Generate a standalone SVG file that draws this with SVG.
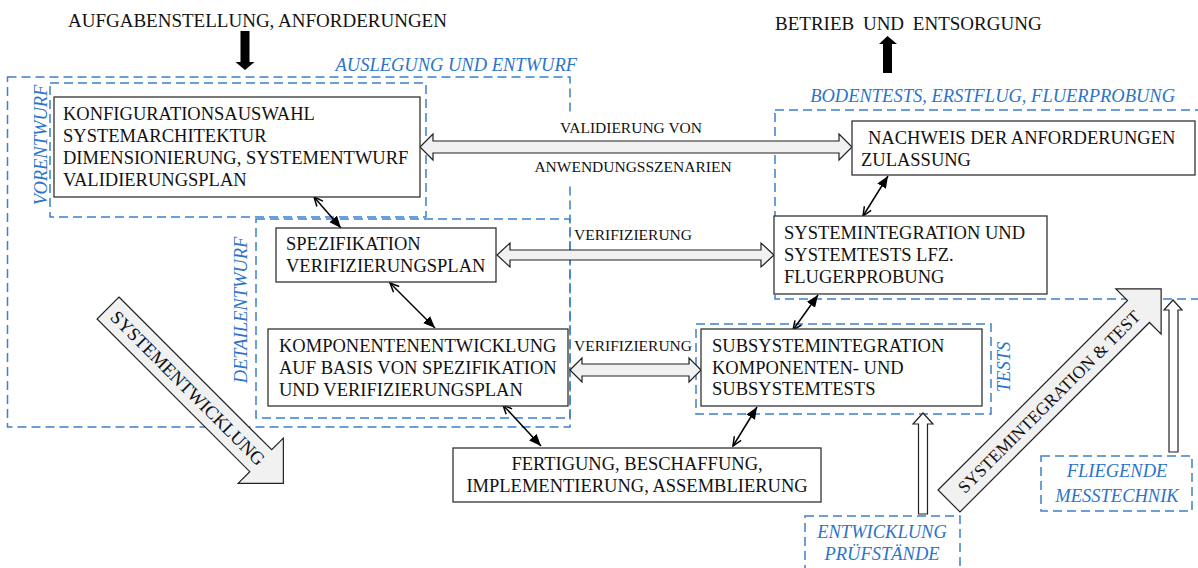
<svg xmlns="http://www.w3.org/2000/svg" width="1198" height="568" viewBox="0 0 1198 568">
<defs>
<style>
.t{font-family:"Liberation Serif","Times New Roman",serif;fill:#111;}
.b{font-size:18.5px;}
.s{font-size:15.5px;}
.bl{font-family:"Liberation Serif","Times New Roman",serif;font-style:italic;font-size:18.5px;fill:#2b74c8;}
.box{fill:#fff;stroke:#333;stroke-width:1.3;}
.dash{fill:none;stroke:#3a80d0;stroke-width:1.5;stroke-dasharray:9 5;}
.blk{fill:#f1f1f1;stroke:#222;stroke-width:1.2;}
.hol{fill:#fff;stroke:#222;stroke-width:1.2;}
.con{fill:none;stroke:#000;stroke-width:1.5;marker-start:url(#open);marker-end:url(#fill);}
</style>
<marker id="fill" viewBox="0 0 12 10" markerWidth="12" markerHeight="10" markerUnits="userSpaceOnUse" refX="12" refY="5" orient="auto"><path d="M0,0 L12,5 L0,10 z" fill="#000"/></marker>
<marker id="open" viewBox="0 0 12 10" markerWidth="12" markerHeight="10" markerUnits="userSpaceOnUse" refX="11" refY="5" orient="auto-start-reverse"><path d="M2,1 L11,5 L2,9" fill="none" stroke="#000" stroke-width="1.5"/></marker>
</defs>
<rect width="1198" height="568" fill="#fff"/>

<g id="regions">
<rect class="dash" x="7.5" y="77" width="562.5" height="350"/>
<rect class="dash" x="50" y="83" width="376" height="134"/>
<rect class="dash" x="256" y="219" width="314" height="199"/>
<rect class="dash" x="775" y="110" width="440" height="189"/>
<rect class="dash" x="696" y="324" width="295" height="90"/>
<rect class="dash" x="805" y="516" width="155" height="70"/>
<rect class="dash" x="1041" y="456" width="151" height="55"/>
<text class="bl" x="577" y="71" text-anchor="end">AUSLEGUNG UND ENTWURF</text>
<text class="bl" x="1175" y="102" text-anchor="end">BODENTESTS, ERSTFLUG, FLUERPROBUNG</text>
<text class="bl" transform="translate(47,145) rotate(-90)" text-anchor="middle">VORENTWURF</text>
<text class="bl" transform="translate(247,310) rotate(-90)" text-anchor="middle">DETAILENTWURF</text>
<text class="bl" transform="translate(1010,367) rotate(-90)" text-anchor="middle">TESTS</text>
<text class="bl" x="882" y="538" text-anchor="middle">ENTWICKLUNG</text>
<text class="bl" x="882" y="560" text-anchor="middle">PRÜFSTÄNDE</text>
<text class="bl" x="1117" y="477" text-anchor="middle">FLIEGENDE</text>
<text class="bl" x="1117" y="502" text-anchor="middle">MESSTECHNIK</text>
</g>

<g id="inputs">
<text class="t" x="68" y="27" font-size="19">AUFGABENSTELLUNG, ANFORDERUNGEN</text>
<polygon points="240.5,31 249.5,31 249.5,62 254.5,62 245,70 235.5,62 240.5,62" fill="#000"/>
<text class="t" x="775" y="30" font-size="19" word-spacing="4">BETRIEB UND ENTSORGUNG</text>
<polygon points="883,73 892,73 892,44 897,44 887.5,36 879,44 883,44" fill="#000"/>
</g>

<g id="connectors">
<rect x="530" y="114" width="210" height="68" fill="#fff"/>
<polygon class="blk" points="420,147 433,134 433,141 839,141 839,134 852,147 839,160 839,153 433,153 433,160"/>
<text class="t s" x="631" y="133" text-anchor="middle">VALIDIERUNG VON</text>
<text class="t s" x="633" y="172" text-anchor="middle">ANWENDUNGSSZENARIEN</text>
<polygon class="blk" points="497,255 510,243 510,250 761,250 761,243 774,255 761,267 761,260 510,260 510,267"/>
<text class="t s" x="574" y="240">VERIFIZIERUNG</text>
<polygon class="blk" points="570,370 582,358 582,364 689,364 689,358 701,370 689,382 689,376 582,376 582,382"/>
<text class="t s" x="574" y="351">VERIFIZIERUNG</text>
<path class="con" d="M314,197 L341,228"/>
<path class="con" d="M390,283 L435,328"/>
<path class="con" d="M503,405 L541,446"/>
<path class="con" d="M733,446 L757,407"/>
<path class="con" d="M793,330 L818,295"/>
<path class="con" d="M863,216 L888,176"/>
<polygon class="hol" points="918.5,514 927.5,514 927.5,424 933,424 923,413 913,424 918.5,424"/>
<polygon class="hol" points="1169,452 1178,452 1178,310 1182,310 1173,300 1164,310 1169,310"/>
<g transform="translate(108,308) rotate(45)">
<polygon class="blk" points="0,-15.5 216,-15.5 216,-32 248,0 216,32 216,15.5 0,15.5"/>
<text class="t" x="113" y="6.5" text-anchor="middle" font-size="18.5">SYSTEMENTWICKLUNG</text>
</g>
<g transform="translate(949,501) rotate(-45)">
<polygon class="blk" points="0,-15.5 268,-15.5 268,-32 300,0 268,32 268,15.5 0,15.5"/>
<text class="t" x="141" y="6.5" text-anchor="middle" font-size="17.5">SYSTEMINTEGRATION &amp; TEST</text>
</g>
</g>

<g id="n-konfiguration">
<rect class="box" x="54" y="97" width="366" height="100"/>
<text class="t b" x="63" y="120">KONFIGURATIONSAUSWAHL</text>
<text class="t b" x="63" y="142">SYSTEMARCHITEKTUR</text>
<text class="t b" x="63" y="163.5">DIMENSIONIERUNG, SYSTEMENTWURF</text>
<text class="t b" x="63" y="185.5">VALIDIERUNGSPLAN</text>
</g>
<g id="n-spezifikation">
<rect class="box" x="276" y="228" width="220" height="54"/>
<text class="t b" x="286" y="250">SPEZIFIKATION</text>
<text class="t b" x="286" y="272">VERIFIZIERUNGSPLAN</text>
</g>
<g id="n-komponenten">
<rect class="box" x="268" y="329" width="300" height="77"/>
<text class="t b" x="279" y="352">KOMPONENTENENTWICKLUNG</text>
<text class="t b" x="279" y="374">AUF BASIS VON SPEZIFIKATION</text>
<text class="t b" x="279" y="396">UND VERIFIZIERUNGSPLAN</text>
</g>
<g id="n-fertigung">
<rect class="box" x="453" y="448" width="368" height="54"/>
<text class="t b" x="637" y="470" text-anchor="middle">FERTIGUNG, BESCHAFFUNG,</text>
<text class="t b" x="637" y="492" text-anchor="middle">IMPLEMENTIERUNG, ASSEMBLIERUNG</text>
</g>
<g id="n-subsystem">
<rect class="box" x="701" y="329" width="281" height="77"/>
<text class="t b" x="712" y="352">SUBSYSTEMINTEGRATION</text>
<text class="t b" x="712" y="374">KOMPONENTEN- UND</text>
<text class="t b" x="712" y="395">SUBSYSTEMTESTS</text>
</g>
<g id="n-systemintegration">
<rect class="box" x="774" y="216" width="273" height="78"/>
<text class="t b" x="784" y="239">SYSTEMINTEGRATION UND</text>
<text class="t b" x="784" y="261">SYSTEMTESTS LFZ.</text>
<text class="t b" x="784" y="283">FLUGERPROBUNG</text>
</g>
<g id="n-nachweis">
<rect class="box" x="852" y="121" width="343" height="54"/>
<text class="t b" x="868" y="144">NACHWEIS DER ANFORDERUNGEN</text>
<text class="t b" x="861" y="166">ZULASSUNG</text>
</g>
</svg>
